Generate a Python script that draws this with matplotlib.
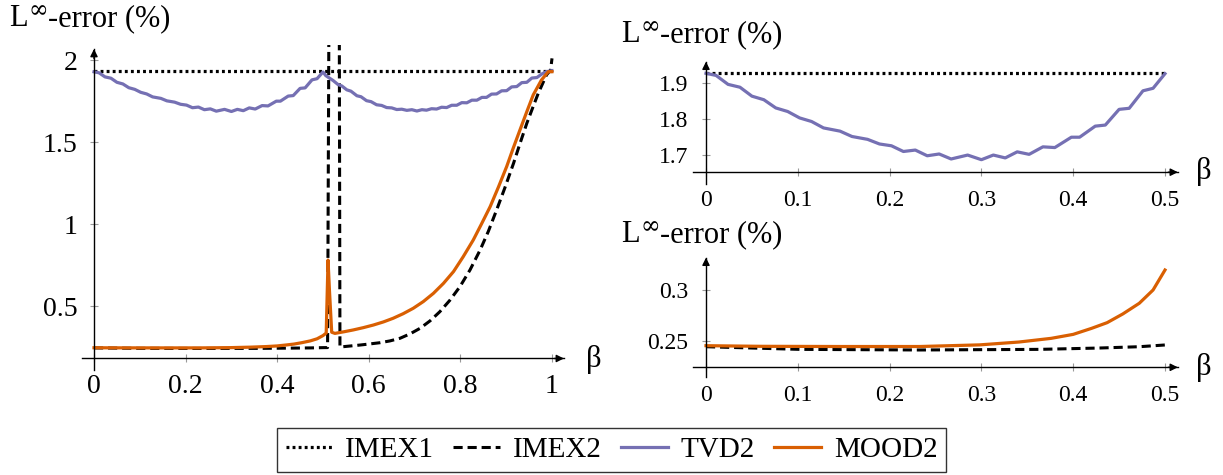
import numpy as np
import matplotlib
matplotlib.use('Agg')
import matplotlib.pyplot as plt

plt.rcParams['font.family'] = ['Liberation Serif', 'DejaVu Serif']

# ---------------- data ----------------
imex1_beta = [0.0, 0.5, 1.0]
imex1 = [1.93, 1.93, 1.93]

imex2_beta = [0.000, 0.102, 0.233, 0.363, 0.428, 0.472, 0.500, 0.510, 0.514, 0.535, 0.537,
              0.581, 0.600, 0.624, 0.646, 0.668, 0.690, 0.712, 0.734, 0.755, 0.777, 0.799,
              0.821, 0.843, 0.861, 0.879, 0.897, 0.916, 0.930, 0.945, 0.958, 0.970,
              0.988, 0.997, 1.000]
imex2 = [0.2444, 0.2418, 0.2412, 0.2418, 0.2431, 0.2444, 0.2461, 0.2465, 3.0, 3.0, 0.250,
         0.262, 0.268, 0.276, 0.287, 0.303, 0.330, 0.364, 0.410, 0.465, 0.535, 0.618,
         0.720, 0.841, 0.955, 1.085, 1.220, 1.370, 1.490, 1.614, 1.710, 1.797,
         1.909, 1.939, 2.010]

tvd2_beta = [0.000, 0.011, 0.024, 0.037, 0.050, 0.063, 0.076, 0.089, 0.102, 0.115, 0.128,
             0.146, 0.159, 0.176, 0.189, 0.202, 0.215, 0.228, 0.241, 0.254, 0.267, 0.285,
             0.300, 0.313, 0.326, 0.339, 0.352, 0.367, 0.380, 0.398, 0.407, 0.424, 0.435,
             0.450, 0.461, 0.476, 0.487, 0.500,
             0.506, 0.515, 0.522, 0.533, 0.541, 0.552, 0.561, 0.574, 0.583, 0.595, 0.605,
             0.617, 0.628, 0.639, 0.650, 0.661, 0.672, 0.683, 0.694, 0.705, 0.716, 0.726,
             0.737, 0.748, 0.759, 0.770, 0.781, 0.792, 0.803, 0.814, 0.825, 0.836, 0.847,
             0.857, 0.868, 0.879, 0.890, 0.901, 0.912, 0.923, 0.934, 0.945, 0.956, 0.967,
             0.978, 0.988, 1.000]
tvd2 = [1.928, 1.922, 1.897, 1.889, 1.864, 1.854, 1.831, 1.821, 1.803, 1.793, 1.775,
        1.766, 1.751, 1.743, 1.730, 1.725, 1.709, 1.713, 1.697, 1.702, 1.688, 1.699,
        1.686, 1.699, 1.691, 1.708, 1.701, 1.722, 1.720, 1.749, 1.749, 1.780, 1.783,
        1.827, 1.830, 1.879, 1.886, 1.927,
        1.905, 1.888, 1.875, 1.850, 1.842, 1.818, 1.810, 1.782, 1.776, 1.752, 1.746,
        1.727, 1.723, 1.710, 1.708, 1.698, 1.700, 1.693, 1.697, 1.689, 1.697, 1.694,
        1.703, 1.701, 1.712, 1.710, 1.724, 1.724, 1.740, 1.739, 1.755, 1.755, 1.772,
        1.772, 1.792, 1.793, 1.812, 1.813, 1.836, 1.838, 1.862, 1.864, 1.890, 1.893,
        1.915, 1.929, 1.935]

mood2_beta = [0.000, 0.059, 0.146, 0.233, 0.298, 0.341, 0.376, 0.400, 0.420, 0.437, 0.454,
              0.472, 0.487, 0.500, 0.507, 0.511, 0.514, 0.519, 0.526, 0.546, 0.566, 0.588,
              0.610, 0.632, 0.653, 0.675, 0.697, 0.719, 0.741, 0.763, 0.785, 0.806, 0.828,
              0.846, 0.865, 0.883, 0.901, 0.915, 0.930, 0.945, 0.959, 0.977, 0.992, 1.000]
mood2 = [0.2454, 0.2448, 0.2446, 0.2446, 0.2462, 0.2490, 0.2526, 0.2565, 0.2624, 0.2680, 0.2765,
         0.2870, 0.3000, 0.3196, 0.335, 0.780, 0.600, 0.340, 0.333, 0.343, 0.354, 0.368,
         0.384, 0.403, 0.425, 0.453, 0.486, 0.527, 0.577, 0.638, 0.710, 0.800, 0.902,
         1.000, 1.106, 1.225, 1.350, 1.460, 1.573, 1.685, 1.787, 1.878, 1.929, 1.929]

series_names = ['IMEX1', 'IMEX2', 'TVD2', 'MOOD2']

left_xticks = [0, 0.2, 0.4, 0.6, 0.8, 1.0]
left_xticklabels = ['0', '0.2', '0.4', '0.6', '0.8', '1']
left_yticks = [0.5, 1.0, 1.5, 2.0]
left_yticklabels = ['0.5', '1', '1.5', '2']
right_xticks = [0, 0.1, 0.2, 0.3, 0.4, 0.5]
right_xticklabels = ['0', '0.1', '0.2', '0.3', '0.4', '0.5']
top_yticks = [1.7, 1.8, 1.9]
top_yticklabels = ['1.7', '1.8', '1.9']
bot_yticks = [0.25, 0.3]
bot_yticklabels = ['0.25', '0.3']

ylabel_parts = ['L', '∞', '-error (%)']
xlabel_text = 'β'

# ---------------- styles ----------------
C_TVD = '#7570b3'
C_MOOD = '#d95f02'
LW = 2.3
st_imex1 = dict(color='black', lw=2.3, ls=(0, (0.9, 1.0)))
st_imex2 = dict(color='black', lw=2.2, ls=(0, (3.0, 1.6)))
st_tvd = dict(color=C_TVD, lw=LW)
st_mood = dict(color=C_MOOD, lw=LW)

W, H = 1223, 475
fig = plt.figure(figsize=(W / 100, H / 100), dpi=100)


def place(ax, xp, xv, yp, yv, xlim, ylim):
    sx = (xp[1] - xp[0]) / (xv[1] - xv[0])
    sy = (yp[1] - yp[0]) / (yv[1] - yv[0])
    l = xp[0] + (xlim[0] - xv[0]) * sx
    r = xp[0] + (xlim[1] - xv[0]) * sx
    b = yp[0] + (ylim[0] - yv[0]) * sy
    t = yp[0] + (ylim[1] - yv[0]) * sy
    ax.set_position([l / W, 1 - b / H, (r - l) / W, (b - t) / H])
    ax.set_xlim(xlim)
    ax.set_ylim(ylim)


def style(ax, xaxis_y, x0, x1, y0, y1, xt, xtl, yt, ytl, tsize, xpad, ypad):
    for s in ['top', 'right']:
        ax.spines[s].set_visible(False)
    ax.spines['bottom'].set_position(('data', xaxis_y))
    ax.spines['left'].set_position(('data', 0))
    ax.spines['bottom'].set_bounds(x0, x1)
    ax.spines['left'].set_bounds(y0, y1)
    for s in ['bottom', 'left']:
        ax.spines[s].set_linewidth(1.0)
        ax.spines[s].set_zorder(5)
    ax.set_xticks(xt)
    ax.set_xticklabels(xtl)
    ax.set_yticks(yt)
    ax.set_yticklabels(ytl)
    ax.tick_params(direction='inout', length=6, width=0.8, color='#999999',
                   labelsize=tsize)
    ax.tick_params(axis='x', pad=xpad)
    ax.tick_params(axis='y', pad=ypad)
    ap = dict(arrowstyle='-|>', color='black', lw=1.0, mutation_scale=11,
              shrinkA=0, shrinkB=0)
    dx = (x1 - x0) * 0.02
    dy = (y1 - y0) * 0.03
    ax.annotate('', xy=(x1, xaxis_y), xytext=(x1 - dx, xaxis_y), arrowprops=ap,
                annotation_clip=False, zorder=6)
    ax.annotate('', xy=(0, y1), xytext=(0, y1 - dy), arrowprops=ap,
                annotation_clip=False, zorder=6)
    ax.patch.set_visible(False)


# ---------------- left panel ----------------
axL = fig.add_axes([0, 0, 1, 1])
place(axL, (94, 552), (0, 1), (306, 60), (0.5, 2.0), (-0.03, 1.03), (0.10, 2.09))
hl = []
hl += axL.plot(imex1_beta, imex1, **st_imex1)
hl += axL.plot(imex2_beta, imex2, **st_imex2)
hl += axL.plot(tvd2_beta, tvd2, **st_tvd)
hl += axL.plot(mood2_beta, mood2, **st_mood)
style(axL, 0.18, -0.027, 1.026, 0.107, 2.067, left_xticks, left_xticklabels,
      left_yticks, left_yticklabels, 20, 8, 9)

# ---------------- right top panel ----------------
tb = np.array(tvd2_beta)
tv = np.array(tvd2)
mt = tb <= 0.5
i1b = np.array(imex1_beta)
i1v = np.array(imex1)
axT = fig.add_axes([0, 0, 1, 1])
place(axT, (706, 1165), (0, 0.5), (83.3, 154.7), (1.9, 1.7), (-0.02, 0.52), (1.61, 1.965))
axT.plot(i1b[i1b <= 0.5], i1v[i1b <= 0.5], **st_imex1)
axT.plot(tb[mt], tv[mt], **st_tvd)
style(axT, 1.651, -0.014, 0.514, 1.617, 1.9605, right_xticks, right_xticklabels,
      top_yticks, top_yticklabels, 17, 10, 10)

# ---------------- right bottom panel ----------------
ib = np.array(imex2_beta)
iv = np.array(imex2)
mb = np.array(mood2_beta)
mv = np.array(mood2)
axB = fig.add_axes([0, 0, 1, 1])
place(axB, (706, 1165), (0, 0.5), (290, 341), (0.3, 0.25), (-0.02, 0.52), (0.213, 0.334))
axB.plot(ib[ib <= 0.5], iv[ib <= 0.5], **st_imex2)
axB.plot(mb[mb <= 0.5], mv[mb <= 0.5], **st_mood)
style(axB, 0.2242, -0.014, 0.514, 0.2144, 0.3317, right_xticks, right_xticklabels,
      bot_yticks, bot_yticklabels, 17, 10, 10)

# ---------------- labels ----------------
renderer = fig.canvas.get_renderer()


def ylabel(x_px, base_px):
    t1 = fig.text(x_px / W, 1 - base_px / H, ylabel_parts[0], ha='left', va='baseline',
                  fontsize=22)
    e1 = t1.get_window_extent(renderer)
    t2 = fig.text((e1.x1 + 0.5) / W, 1 - (base_px - 9) / H, ylabel_parts[1], ha='left',
                  va='baseline', fontsize=17, family='DejaVu Serif')
    e2 = t2.get_window_extent(renderer)
    fig.text((e2.x1 + 0.5) / W, 1 - base_px / H, ylabel_parts[2], ha='left',
             va='baseline', fontsize=22)


ylabel(9, 26)
ylabel(621, 42)
ylabel(621, 242)
fig.text(594 / W, 1 - 359 / H, xlabel_text, ha='center', va='center', fontsize=22)
fig.text(1204 / W, 1 - 172 / H, xlabel_text, ha='center', va='center', fontsize=22)
fig.text(1204 / W, 1 - 367 / H, xlabel_text, ha='center', va='center', fontsize=22)

# ---------------- legend ----------------
leg = fig.legend(hl, series_names, loc='center', bbox_to_anchor=(0.5, 1 - 450 / H), ncol=4,
                 fontsize=21, frameon=True, fancybox=False, edgecolor='black',
                 handlelength=1.6, handletextpad=0.45, columnspacing=0.65,
                 borderpad=0.3, borderaxespad=0)
leg.get_frame().set_linewidth(1.0)

fig.savefig('out.png', dpi=100)
